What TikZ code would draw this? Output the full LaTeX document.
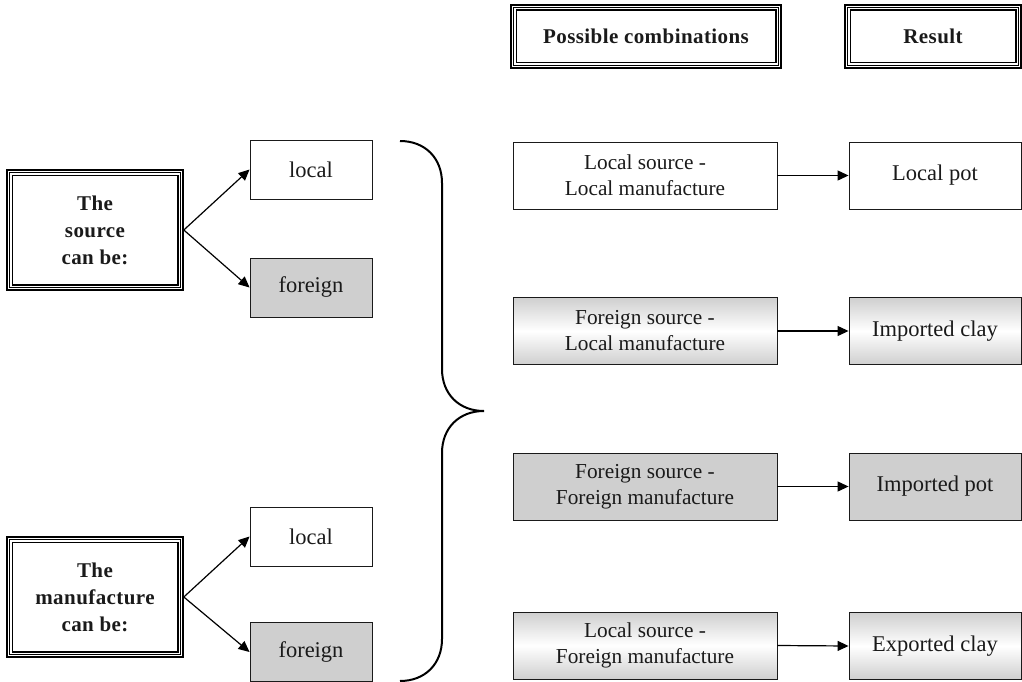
\documentclass[tikz,border=0pt]{standalone}
\usepackage{fontspec}
\setmainfont{Liberation Serif}
\newfontfamily\hdfont[LetterSpace=2]{Liberation Serif}
\usetikzlibrary{arrows.meta}
\definecolor{boxgray}{HTML}{CFCFCF}
\definecolor{txt}{HTML}{1A1A1A}
\tikzset{
  plainbox/.style={draw=txt, line width=0.9pt, inner sep=0pt, align=center, text=txt,
    font=\fontsize{22.5}{26}\selectfont},
  graybox/.style={plainbox, fill=boxgray},
  gradbox/.style={plainbox, top color=boxgray, bottom color=boxgray, middle color=white},
  smallbox/.style={minimum width=122pt, minimum height=59pt},
  combbox/.style={minimum width=264pt, minimum height=67pt, font=\fontsize{21.3}{26}\selectfont},
  resbox/.style={minimum width=172pt, minimum height=67pt, font=\fontsize{22.5}{26}\selectfont},
  tripbox/.style={draw=black, line width=1.6pt, inner sep=0pt, align=center, text=txt,
    font=\hdfont\bfseries\fontsize{21}{27}\selectfont},
  inline/.style={draw=black, line width=0.7pt},
  inline2/.style={draw=black, line width=1.4pt},
  conn/.style={draw=black, line width=1.2pt, -{Triangle[length=11pt,width=10pt]}},
  bracestyle/.style={draw=black, line width=2pt}
}
\newcommand{\triplelines}[1]{%
  \path[inline] ([shift={(3.5,3.5)}]#1.north west) rectangle ([shift={(-3.5,-3.5)}]#1.south east);
  \path[inline2] ([shift={(6,6)}]#1.north west) rectangle ([shift={(-6,-6)}]#1.south east);
}
\begin{document}
\begin{tikzpicture}[x=1pt,y=-1pt]
\useasboundingbox (0,0) rectangle (1022,682);

% headers
\node[tripbox, minimum width=270pt, minimum height=63pt] (h1) at (646,36.5) {Possible combinations};
\node[tripbox, minimum width=176pt, minimum height=63pt] (h2) at (933,36.5) {Result};
\triplelines{h1}
\triplelines{h2}

% left boxes
\node[tripbox, minimum width=176pt, minimum height=120pt] (src) at (95,230) {The\\source\\can be:};
\node[tripbox, minimum width=176pt, minimum height=120pt] (man) at (95,597) {The\\manufacture\\can be:};
\triplelines{src}
\triplelines{man}

\node[plainbox, smallbox] (l1) at (311,169.5) {local};
\node[graybox, smallbox] (f1) at (311,287.5) {foreign};
\node[plainbox, smallbox] (l2) at (311,536.5) {local};
\node[graybox, smallbox] (f2) at (311,652) {foreign};

\draw[conn] (src.east) -- (l1.west);
\draw[conn] (src.east) -- (f1.west);
\draw[conn] (man.east) -- (l2.west);
\draw[conn] (man.east) -- (f2.west);

% brace
\coordinate (btop) at (400,141);
\coordinate (btip) at (484,411);
\coordinate (bbot) at (400,681);
\draw[bracestyle] (btop) .. controls (425,141) and (442,158) .. (442,183)
  -- (442,369) .. controls (442,394) and (459,411) .. (btip)
  .. controls (459,411) and (442,428) .. (442,453)
  -- (442,639) .. controls (442,664) and (425,681) .. (bbot);

% combinations
\node[plainbox, combbox] (c1) at (645,175.5) {Local source -\\Local manufacture};
\node[gradbox, combbox] (c2) at (645,331) {Foreign source -\\Local manufacture};
\node[graybox, combbox] (c3) at (645,486.5) {Foreign source -\\Foreign manufacture};
\node[gradbox, combbox] (c4) at (645,645.5) {Local source -\\Foreign manufacture};

\node[plainbox, resbox] (r1) at (935,175.5) {Local pot};
\node[gradbox, resbox] (r2) at (935,331) {Imported clay};
\node[graybox, resbox] (r3) at (935,486.5) {Imported pot};
\node[gradbox, resbox] (r4) at (935,646) {Exported clay};

\draw[conn] (c1.east) -- (r1.west);
\draw[conn] (c2.east) -- (r2.west);
\draw[conn] (c3.east) -- (r3.west);
\draw[conn] (c4.east) -- (r4.west);
\end{tikzpicture}
\end{document}
